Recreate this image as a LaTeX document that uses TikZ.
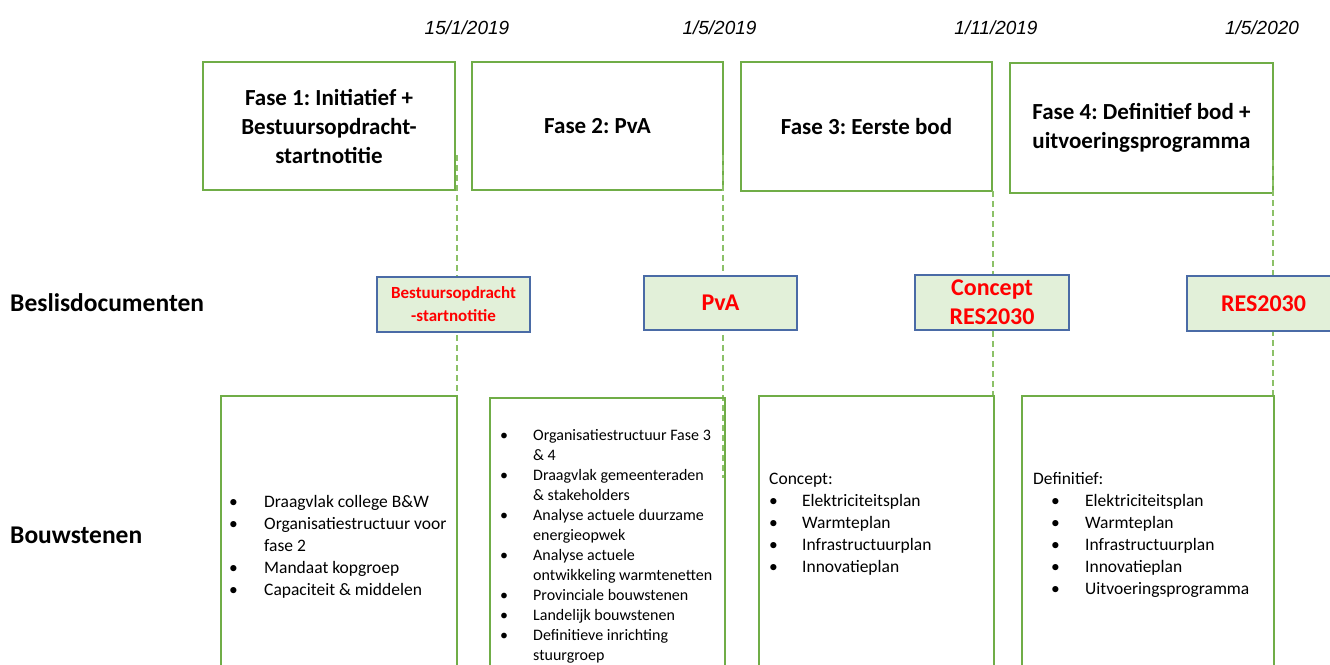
\documentclass[tikz,border=0pt]{standalone}
\usepackage{fontspec}
\setmainfont{Carlito}
\newfontfamily\datefont{Liberation Sans}
\frenchspacing
\definecolor{gborder}{HTML}{70AD47}
\definecolor{gdash}{HTML}{8CC168}
\definecolor{dfill}{HTML}{E2F0D9}
\definecolor{dborder}{HTML}{4A6BA6}
\definecolor{rtext}{HTML}{FF0000}
\tikzset{
  phasebox/.style={draw=gborder, line width=1.3pt, align=center, inner sep=0pt,
    font=\fontsize{23}{29}\selectfont\bfseries},
  docbox/.style={draw=dborder, fill=dfill, line width=1.3pt, align=center, inner sep=0pt,
    text=rtext, font=\fontsize{24}{29}\selectfont\bfseries},
  blockbox/.style={draw=gborder, line width=1.3pt, inner sep=0pt},
  datelabel/.style={anchor=base, inner sep=0pt, font=\datefont\itshape\fontsize{19}{23}\selectfont},
  rowlabel/.style={anchor=base west, inner sep=0pt, font=\fontsize{25.5}{30}\selectfont\bfseries},
  listtext/.style={anchor=base west, inner sep=0pt},
  timeline/.style={draw=gdash, line width=1.3pt, dash pattern=on 6pt off 4pt}
}
\begin{document}
\begin{tikzpicture}[x=1pt,y=-1pt]
\path[use as bounding box] (0,0) rectangle (1330,664);
\clip (0,0) rectangle (1330,664);

% dates
\node[datelabel] (d1) at (467,34) {15/1/2019};
\node[datelabel] (d2) at (719.5,34) {1/5/2019};
\node[datelabel] (d3) at (996,34) {1/11/2019};
\node[datelabel] (d4) at (1262,34) {1/5/2020};

% phase boxes
\node[phasebox, minimum width=252pt, minimum height=128pt] (t1) at (329,126)
  {Fase 1: Initiatief +\\Bestuursopdracht-\\startnotitie};
\node[phasebox, minimum width=251pt, minimum height=128pt] (t2) at (597.5,126)
  {Fase 2: PvA};
\node[phasebox, minimum width=251pt, minimum height=129pt] (t3) at (866.5,126.5)
  {Fase 3: Eerste bod};
\node[phasebox, minimum width=263pt, minimum height=130pt] (t4) at (1141.5,128)
  {Fase 4: Definitief bod +\\uitvoeringsprogramma};

% time lines
\coordinate (v1a) at (457,155); \coordinate (v1b) at (457,478);
\coordinate (v2a) at (723,155); \coordinate (v2b) at (723,478);
\coordinate (v3a) at (993,191); \coordinate (v3b) at (993,396);
\coordinate (v4a) at (1273,160); \coordinate (v4b) at (1273,396);
\draw[timeline] (v1a) -- (v1b);
\draw[timeline] (v2a) -- (v2b);
\draw[timeline] (v3a) -- (v3b);
\draw[timeline] (v4a) -- (v4b);

% row labels
\node[rowlabel] (lab1) at (10,311) {Beslisdocumenten};
\node[rowlabel] (lab2) at (10,543) {Bouwstenen};

% decision documents
\node[docbox, minimum width=153pt, minimum height=55pt,
  font=\fontsize{17}{23}\selectfont\bfseries] (b1) at (453.5,304.5)
  {Bestuursopdracht\\-startnotitie};
\node[docbox, minimum width=153pt, minimum height=54pt] (b2) at (720.5,303) {PvA};
\node[docbox, minimum width=154pt, minimum height=55pt] (b3) at (992,302.5) {Concept\\RES2030};
\node[docbox, minimum width=153pt, minimum height=55pt] (b4) at (1263.5,303.5) {RES2030};

% building blocks
\node[blockbox, minimum width=236pt, minimum height=284pt] (w1) at (339,538) {};
\node[blockbox, minimum width=235pt, minimum height=282pt] (w2) at (607.5,539) {};
\node[blockbox, minimum width=235pt, minimum height=284pt] (w3) at (876.5,538) {};
\node[blockbox, minimum width=252pt, minimum height=284pt] (w4) at (1148,538) {};

\node[listtext] (l1) at (229,507) {\fontsize{17.5}{22}\selectfont
  \begin{tabular}[t]{@{}p{35pt}@{}l@{}}
  \textbullet & Draagvlak college B\&W\\
  \textbullet & Organisatiestructuur voor\\
   & fase 2\\
  \textbullet & Mandaat kopgroep\\
  \textbullet & Capaciteit \& middelen
  \end{tabular}};

\node[listtext] (l2) at (500,440) {\fontsize{16}{20}\selectfont
  \begin{tabular}[t]{@{}p{33pt}@{}l@{}}
  \textbullet & Organisatiestructuur Fase 3\\
   & \& 4\\
  \textbullet & Draagvlak gemeenteraden\\
   & \& stakeholders\\
  \textbullet & Analyse actuele duurzame\\
   & energieopwek\\
  \textbullet & Analyse actuele\\
   & ontwikkeling warmtenetten\\
  \textbullet & Provinciale bouwstenen\\
  \textbullet & Landelijk bouwstenen\\
  \textbullet & Definitieve inrichting\\
   & stuurgroep
  \end{tabular}};

\node[listtext] (l3) at (769,484) {\fontsize{17.5}{22}\selectfont
  \begin{tabular}[t]{@{}p{33pt}@{}l@{}}
  \multicolumn{2}{@{}l@{}}{Concept:}\\
  \textbullet & Elektriciteitsplan\\
  \textbullet & Warmteplan\\
  \textbullet & Infrastructuurplan\\
  \textbullet & Innovatieplan
  \end{tabular}};

\node[listtext] (l4) at (1033,484) {\fontsize{17.5}{22}\selectfont
  \begin{tabular}[t]{@{}p{52pt}@{}l@{}}
  \multicolumn{2}{@{}l@{}}{Definitief:}\\
  \hspace*{18pt}\textbullet & Elektriciteitsplan\\
  \hspace*{18pt}\textbullet & Warmteplan\\
  \hspace*{18pt}\textbullet & Infrastructuurplan\\
  \hspace*{18pt}\textbullet & Innovatieplan\\
  \hspace*{18pt}\textbullet & Uitvoeringsprogramma
  \end{tabular}};
\end{tikzpicture}
\end{document}
